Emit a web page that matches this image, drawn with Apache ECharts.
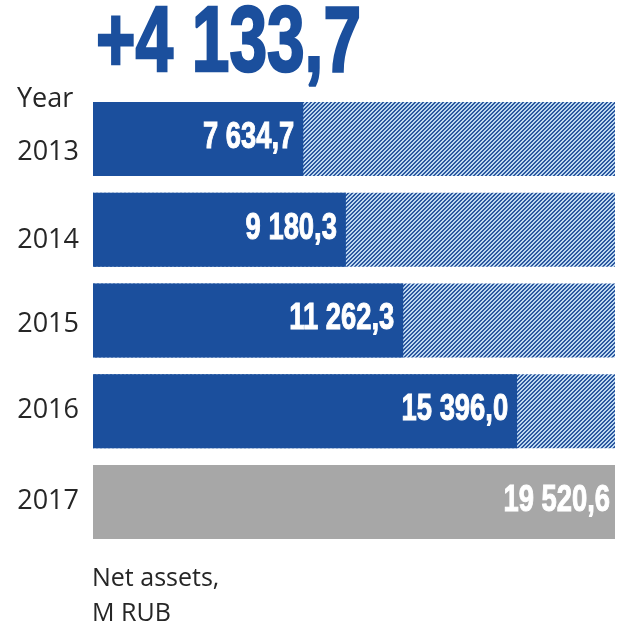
<!DOCTYPE html>
<html>
<head>
<meta charset="utf-8">
<script src="https://cdn.jsdelivr.net/npm/echarts@6/dist/echarts.min.js"></script>
<style>
  html, body { margin: 0; padding: 0; background: #ffffff; }
  #chart { width: 622px; height: 627px; }
</style>
</head>
<body>
<div id="chart"></div>
<script>
// Net assets by year, M RUB
const years = ['2013', '2014', '2015', '2016', '2017'];
const netAssets = [7634.7, 9180.3, 11262.3, 15396.0, 19520.6];
const headline = '+4 133,7';
const axisTitle = 'Year';
const unitNote = 'Net assets,\nM RUB';

const BLUE = '#1b4f9d';
const GREY = '#a7a7a7';
const last = netAssets.length - 1;
const total = netAssets[last];

// vertical nudges (px) for the year labels, as set in the layout
const yearLabelShift = [13, 11, 4, -1, -1];

// diagonal hatch tile used for the remainder up to the latest total
function hatchTile() {
  const c = document.createElement('canvas');
  c.width = 4; c.height = 4;
  const g = c.getContext('2d');
  const img = g.createImageData(4, 4);
  for (let y = 0; y < 4; y++) {
    for (let x = 0; x < 4; x++) {
      const dark = ((x + y) % 4) < 2;
      const i = (y * 4 + x) * 4;
      const col = dark ? [44, 88, 160] : [190, 216, 240];
      img.data[i] = col[0]; img.data[i + 1] = col[1]; img.data[i + 2] = col[2]; img.data[i + 3] = 255;
    }
  }
  g.putImageData(img, 0, 0);
  return c;
}

function fmt(v) {
  const s = v.toFixed(1).split('.');
  return s[0].replace(/\B(?=(\d{3})+(?!\d))/g, ' ') + ',' + s[1];
}

const labelRich = {};
yearLabelShift.forEach((d, i) => {
  labelRich['y' + i] = {
    color: '#262626',
    fontFamily: 'Open Sans',
    fontSize: 27,
    padding: d >= 0 ? [2 * d, 0, 0, 0] : [0, 0, -2 * d, 0]
  };
});

const chart = echarts.init(document.getElementById('chart'), null, { renderer: 'canvas' });

const AXIS_MAX = 18950;

chart.setOption({
  animation: false,
  grid: { left: 93, right: 7, top: 93.5, height: 454, containLabel: false },
  xAxis: { type: 'value', min: 0, max: AXIS_MAX, show: false },
  yAxis: {
    type: 'category',
    data: years,
    inverse: true,
    axisLine: { show: false },
    axisTick: { show: false },
    splitLine: { show: false },
    axisLabel: {
      margin: 14,
      formatter: (val, idx) => '{y' + idx + '|' + val + '}',
      rich: labelRich
    }
  },
  graphic: [
    {
      type: 'text', left: 95, top: -2, scaleX: 0.735,
      style: {
        text: headline, fill: BLUE, stroke: BLUE, lineWidth: 2.5,
        font: 'bold 92px "Liberation Sans", Arial, sans-serif'
      }
    },
    {
      type: 'text', left: 17, top: 86,
      style: { text: axisTitle, fill: '#262626', font: '27px "Open Sans", sans-serif' }
    },
    {
      type: 'text', left: 92, top: 561,
      style: { text: unitNote, fill: '#262626', font: '25px "Open Sans", sans-serif', lineHeight: 35 }
    }
  ],
  series: [
    {
      // hatched remainder up to the latest year's total
      type: 'bar',
      barWidth: 74,
      silent: true,
      clip: true,
      itemStyle: { color: { image: hatchTile(), repeat: 'repeat' } },
      data: netAssets.map((v, i) => (i === last ? '-' : total)),
      z: 1
    },
    {
      type: 'bar',
      barWidth: 74,
      barGap: '-100%',
      clip: true,
      data: netAssets.map((v, i) => ({
        value: v,
        itemStyle: { color: i === last ? GREY : BLUE }
      })),
      z: 2
    },
    {
      // condensed value labels at the end of each bar
      type: 'custom',
      data: netAssets.map((v, i) => [v, i]),
      encode: { x: 0, y: 1 },
      z: 5,
      renderItem: function (params, api) {
        const v = api.value(0);
        const pt = api.coord([Math.min(v, AXIS_MAX), api.value(1)]);
        const gap = v > AXIS_MAX ? 5 : 9;
        return {
          type: 'text',
          x: pt[0] - gap,
          y: pt[1] - 1,
          scaleX: 0.76,
          style: {
            text: fmt(v),
            fill: '#ffffff',
            stroke: '#ffffff',
            lineWidth: 1,
            align: 'right',
            verticalAlign: 'middle',
            font: 'bold 36px "Liberation Sans", Arial, sans-serif'
          }
        };
      }
    }
  ]
});
</script>
</body>
</html>
